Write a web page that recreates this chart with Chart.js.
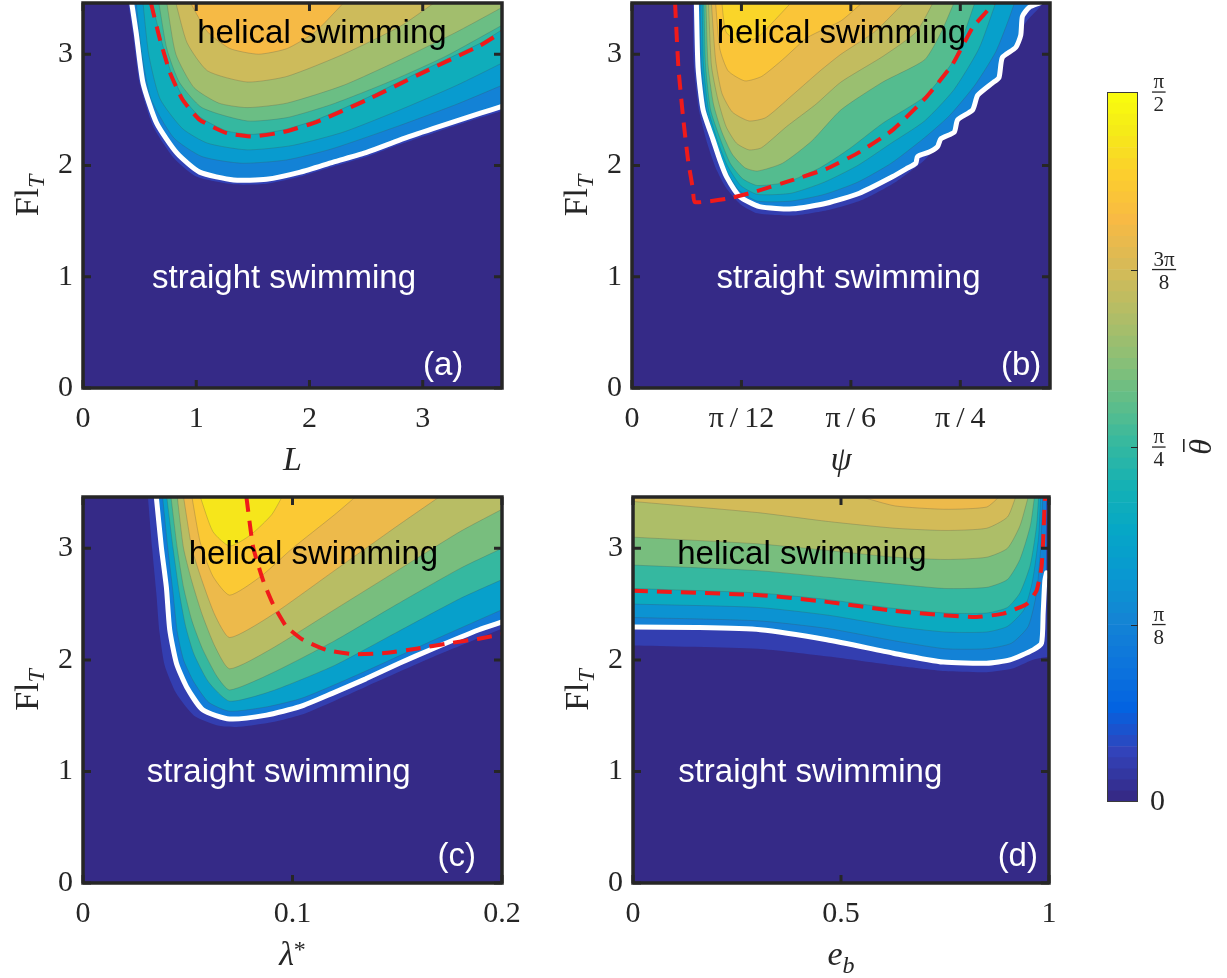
<!DOCTYPE html>
<html>
<head>
<meta charset="utf-8">
<script src="https://cdn.jsdelivr.net/npm/chart.js@4.4.1/dist/chart.umd.min.js"></script>
<style>
  html, body { margin: 0; padding: 0; background: #ffffff; }
  body { width: 1227px; height: 978px; position: relative; overflow: hidden; }
  canvas { position: absolute; }
</style>
</head>
<body>
<canvas id="panelA" width="520" height="490" style="left:0px;top:0px"></canvas>
<canvas id="panelB" width="540" height="490" style="left:540px;top:0px"></canvas>
<canvas id="panelC" width="520" height="488" style="left:0px;top:490px"></canvas>
<canvas id="panelD" width="540" height="488" style="left:540px;top:490px"></canvas>
<canvas id="colorbar" width="147" height="780" style="left:1080px;top:60px"></canvas>
<script>
// ---------- axes ----------
const THETA_MAX = Math.PI / 2;
const flRange = [0, 3.46];
const flTicks = [0, 1, 2, 3];
const flTickLabels = ['0', '1', '2', '3'];

const lRange = [0, 3.7];
const lTicks = [0, 1, 2, 3];
const lTickLabels = ['0', '1', '2', '3'];

const psiRange = [0, 1];
const psiTicks = [0, Math.PI / 12, Math.PI / 6, Math.PI / 4];
const psiTickLabels = ['0', 'π\u2009/\u200912', 'π\u2009/\u20096', 'π\u2009/\u20094'];

const lambdaRange = [0, 0.2];
const lambdaTicks = [0, 0.1, 0.2];
const lambdaTickLabels = ['0', '0.1', '0.2'];

const ebRange = [0, 1];
const ebTicks = [0, 0.5, 1];
const ebTickLabels = ['0', '0.5', '1'];

const cbTicks = [0, Math.PI / 8, Math.PI / 4, 3 * Math.PI / 8, Math.PI / 2];
const cbTickLabels = [['0'], ['π', '8'], ['π', '4'], ['3π', '8'], ['π', '2']];

// ---------- (a) mean tilt over (L, Fl_T) ----------
// contour levels of θ̄ (rad): halo, boundary, then inner levels
const levelsA = [0.09, 0.38, 0.52, 0.66, 0.79, 0.91, 1.04, 1.16, 1.29];
const haloA = [[0.40,3.46],[0.44,3.19],[0.50,2.74],[0.62,2.35],[0.80,2.07],[1.00,1.90],[1.33,1.83],[1.62,1.835],[1.92,1.90],[2.21,1.99],[2.51,2.08],[2.80,2.19],[3.09,2.29],[3.51,2.43],[3.70,2.49]];
const boundaryA = [[0.43,3.46],[0.47,3.19],[0.53,2.74],[0.65,2.38],[0.83,2.11],[1.03,1.94],[1.33,1.87],[1.62,1.876],[1.92,1.94],[2.21,2.03],[2.51,2.12],[2.80,2.23],[3.09,2.33],[3.51,2.47],[3.70,2.53]];
const contoursA = [
  [[0.47,3.46],[0.52,3.0],[0.6,2.6],[0.8,2.25],[1.05,2.08],[1.4,2.02],[1.8,2.05],[2.2,2.15],[2.8,2.36],[3.3,2.55],[3.7,2.72]],
  [[0.53,3.46],[0.58,3.0],[0.68,2.6],[0.88,2.33],[1.1,2.2],[1.45,2.14],[1.85,2.18],[2.3,2.3],[2.8,2.5],[3.3,2.72],[3.7,2.92]],
  [[0.61,3.46],[0.69,3.13],[0.78,2.83],[0.89,2.6],[1.04,2.43],[1.27,2.31],[1.5,2.28],[1.77,2.32],[2.06,2.41],[2.51,2.61],[2.95,2.83],[3.51,3.1],[3.7,3.22]],
  [[0.67,3.46],[0.74,3.05],[0.85,2.75],[1.05,2.52],[1.45,2.4],[1.8,2.43],[2.2,2.55],[2.7,2.75],[3.2,2.98],[3.7,3.26]],
  [[0.74,3.46],[0.82,3.0],[0.98,2.7],[1.2,2.56],[1.45,2.52],[1.8,2.56],[2.3,2.72],[2.8,2.95],[3.3,3.2],[3.7,3.42]],
  [[0.82,3.46],[0.92,3.1],[1.1,2.85],[1.45,2.75],[1.8,2.8],[2.3,3.0],[2.8,3.25],[3.1,3.46]],
  [[0.95,3.46],[1.1,3.2],[1.3,3.05],[1.55,3.0],[1.8,3.05],[2.05,3.2],[2.3,3.46]]
];
const dashedA = [[0.60,3.46],[0.68,3.13],[0.77,2.83],[0.88,2.59],[1.03,2.41],[1.27,2.29],[1.50,2.26],[1.77,2.30],[2.06,2.39],[2.51,2.59],[2.95,2.81],[3.51,3.08],[3.70,3.20]];

// ---------- (b) mean tilt over (ψ, Fl_T) ----------
const levelsB = [0.08, 0.38, 0.55, 0.71, 0.86, 1.02, 1.13, 1.24, 1.35, 1.42];
const haloB = [[0.145,3.46],[0.148,2.9],[0.16,2.5],[0.18,2.2],[0.2,1.98],[0.225,1.8],[0.26,1.65],[0.3,1.57],[0.385,1.55],[0.47,1.6],[0.55,1.69],[0.63,1.85],[0.7,2.05],[0.76,2.3],[0.82,2.56],[0.87,2.85],[0.91,3.1],[0.945,3.3],[0.97,3.4],[0.985,3.46]];
const boundaryB = [[0.154,3.46],[0.158,2.88],[0.17,2.5],[0.194,2.23],[0.21,2.05],[0.226,1.9],[0.258,1.72],[0.305,1.63],[0.385,1.61],[0.465,1.66],[0.544,1.75],[0.624,1.9],[0.656,1.97],[0.679,2.02],[0.683,2.08],[0.711,2.12],[0.731,2.17],[0.739,2.24],[0.771,2.3],[0.779,2.41],[0.815,2.5],[0.827,2.63],[0.862,2.74],[0.878,2.79],[0.886,2.97],[0.918,3.06],[0.93,3.17],[0.934,3.34],[0.95,3.42],[0.975,3.46]];
const contoursB = [
  [[0.163,3.46],[0.166,2.9],[0.178,2.5],[0.2,2.2],[0.222,1.98],[0.255,1.78],[0.3,1.68],[0.38,1.68],[0.46,1.74],[0.54,1.85],[0.62,2.02],[0.7,2.25],[0.76,2.45],[0.82,2.72],[0.87,3.02],[0.9,3.3],[0.915,3.46]],
  [[0.168,3.46],[0.171,2.9],[0.183,2.5],[0.205,2.22],[0.228,2.0],[0.26,1.82],[0.3,1.74],[0.38,1.75],[0.46,1.85],[0.54,2.0],[0.62,2.2],[0.7,2.4],[0.77,2.68],[0.83,3.05],[0.87,3.46]],
  [[0.172,3.46],[0.176,2.9],[0.188,2.5],[0.21,2.25],[0.235,2.02],[0.265,1.88],[0.3,1.82],[0.37,1.85],[0.45,1.98],[0.52,2.15],[0.6,2.38],[0.7,2.62],[0.77,2.95],[0.82,3.46]],
  [[0.177,3.46],[0.182,2.9],[0.195,2.55],[0.215,2.3],[0.24,2.1],[0.27,1.98],[0.3,1.95],[0.36,2.02],[0.43,2.22],[0.5,2.5],[0.6,2.75],[0.7,2.95],[0.74,3.2],[0.77,3.46]],
  [[0.183,3.46],[0.19,2.9],[0.205,2.6],[0.225,2.35],[0.25,2.2],[0.28,2.14],[0.31,2.16],[0.37,2.35],[0.44,2.55],[0.5,2.75],[0.6,2.98],[0.68,3.2],[0.72,3.46]],
  [[0.19,3.46],[0.2,2.95],[0.215,2.65],[0.24,2.48],[0.28,2.4],[0.32,2.43],[0.38,2.62],[0.45,2.85],[0.5,3.0],[0.58,3.2],[0.65,3.46]],
  [[0.2,3.46],[0.21,3.05],[0.23,2.85],[0.27,2.76],[0.31,2.8],[0.36,2.95],[0.42,3.15],[0.5,3.3],[0.55,3.46]],
  [[0.215,3.46],[0.225,3.2],[0.26,3.1],[0.3,3.15],[0.34,3.3],[0.38,3.46]]
];
const dashedB = [[0.103,3.46],[0.111,2.88],[0.122,2.44],[0.134,2.05],[0.146,1.78],[0.15,1.67],[0.226,1.70],[0.29,1.76],[0.385,1.87],[0.465,1.97],[0.544,2.12],[0.624,2.32],[0.703,2.61],[0.767,2.91],[0.815,3.24],[0.85,3.39],[0.865,3.46]];

// ---------- (c) mean tilt over (λ*, Fl_T) ----------
const levelsC = [0.08, 0.35, 0.55, 0.79, 0.94, 1.10, 1.26, 1.37, 1.48];
const haloC = [[0.031,3.46],[0.033,3.0],[0.035,2.6],[0.0365,2.25],[0.039,1.95],[0.0445,1.7],[0.053,1.5],[0.065,1.41],[0.075,1.4],[0.09,1.44],[0.106,1.52],[0.135,1.76],[0.17,2.05],[0.2,2.28]];
const boundaryC = [[0.035,3.46],[0.0374,3.01],[0.0398,2.65],[0.0414,2.27],[0.0446,1.97],[0.0494,1.76],[0.0573,1.55],[0.07,1.47],[0.0876,1.505],[0.1035,1.58],[0.119,1.70],[0.135,1.83],[0.151,1.97],[0.167,2.10],[0.189,2.27],[0.2,2.34]];
const contoursC = [
  [[0.038,3.46],[0.0405,3.0],[0.043,2.6],[0.045,2.25],[0.048,2.0],[0.053,1.8],[0.06,1.62],[0.07,1.54],[0.088,1.58],[0.105,1.66],[0.135,1.9],[0.17,2.2],[0.2,2.45]],
  [[0.04,3.46],[0.043,3.0],[0.046,2.6],[0.049,2.3],[0.053,2.05],[0.06,1.8],[0.07,1.63],[0.09,1.72],[0.12,1.95],[0.15,2.25],[0.18,2.55],[0.2,2.72]],
  [[0.042,3.46],[0.045,3.0],[0.048,2.65],[0.052,2.35],[0.057,2.1],[0.064,1.85],[0.07,1.73],[0.09,1.88],[0.12,2.17],[0.15,2.5],[0.18,2.82],[0.2,3.0]],
  [[0.045,3.46],[0.048,3.0],[0.052,2.7],[0.057,2.4],[0.063,2.12],[0.07,1.92],[0.09,2.1],[0.12,2.45],[0.15,2.8],[0.18,3.15],[0.2,3.35]],
  [[0.048,3.46],[0.052,3.0],[0.057,2.7],[0.063,2.4],[0.07,2.2],[0.09,2.4],[0.12,2.8],[0.15,3.2],[0.17,3.46]],
  [[0.052,3.46],[0.056,3.05],[0.062,2.75],[0.07,2.58],[0.085,2.75],[0.1,3.0],[0.12,3.3],[0.13,3.46]],
  [[0.056,3.46],[0.062,3.15],[0.07,3.02],[0.08,3.12],[0.09,3.3],[0.095,3.46]]
];
const dashedC = [[0.078,3.46],[0.0812,3.01],[0.086,2.71],[0.0907,2.50],[0.097,2.30],[0.105,2.18],[0.116,2.09],[0.129,2.05],[0.143,2.06],[0.159,2.10],[0.175,2.15],[0.189,2.19],[0.2,2.23]];

// ---------- (d) mean tilt over (e_b, Fl_T) ----------
const levelsD = [0.08, 0.38, 0.47, 0.63, 0.79, 0.94, 1.07, 1.18, 1.26];
const haloD = [[0,2.13],[0.3,2.1],[0.47,2.03],[0.63,1.95],[0.75,1.9],[0.85,1.89],[0.91,1.92],[0.96,2.0],[1.0,2.03]];
const boundaryD = [[0,2.295],[0.15,2.29],[0.306,2.27],[0.466,2.18],[0.626,2.06],[0.746,1.98],[0.85,1.97],[0.906,2.0],[0.962,2.09],[0.982,2.15],[0.986,2.42],[0.99,2.71],[0.994,2.78]];
const contoursD = [
  [[0,2.38],[0.3,2.35],[0.47,2.28],[0.63,2.17],[0.75,2.1],[0.85,2.1],[0.91,2.15],[0.95,2.3],[0.97,2.6],[0.98,3.0],[0.985,3.46]],
  [[0,2.5],[0.3,2.47],[0.47,2.4],[0.63,2.3],[0.75,2.25],[0.85,2.25],[0.9,2.3],[0.94,2.45],[0.96,2.7],[0.975,3.1],[0.98,3.46]],
  [[0,2.64],[0.3,2.6],[0.47,2.54],[0.63,2.46],[0.75,2.42],[0.85,2.42],[0.9,2.47],[0.93,2.6],[0.955,2.85],[0.97,3.2],[0.975,3.46]],
  [[0,2.85],[0.3,2.8],[0.47,2.74],[0.63,2.68],[0.75,2.64],[0.85,2.65],[0.9,2.72],[0.93,2.9],[0.955,3.2],[0.965,3.46]],
  [[0,3.1],[0.3,3.04],[0.47,2.98],[0.63,2.92],[0.75,2.9],[0.85,2.92],[0.9,3.0],[0.93,3.2],[0.95,3.46]],
  [[0,3.42],[0.3,3.32],[0.47,3.24],[0.63,3.18],[0.75,3.16],[0.85,3.18],[0.9,3.28],[0.92,3.46]],
  [[0.55,3.46],[0.63,3.38],[0.75,3.35],[0.85,3.37],[0.88,3.46]]
];
const dashedD = [[0,2.62],[0.306,2.58],[0.466,2.52],[0.626,2.44],[0.746,2.40],[0.826,2.385],[0.89,2.415],[0.946,2.50],[0.97,2.62],[0.982,2.83],[0.986,3.07],[0.99,3.43],[0.992,3.46]];

// ---------- colour map (parula) ----------
const PARULA_STOPS = [
  [0.000, 53, 42,135],[0.063, 50, 67,186],[0.127,  3, 99,225],[0.190, 13,117,220],
  [0.254, 20,133,212],[0.317,  9,152,209],[0.381,  6,167,198],[0.444, 21,177,180],
  [0.508, 56,185,158],[0.571,101,190,134],[0.635,146,191,115],[0.698,183,189,100],
  [0.762,217,186, 86],[0.825,248,186, 68],[0.889,252,206, 46],[0.952,245,235, 24],
  [1.000,249,251, 14]
];
function parula(t) {
  t = Math.max(0, Math.min(1, t));
  for (let i = 1; i < PARULA_STOPS.length; i++) {
    const a = PARULA_STOPS[i - 1], b = PARULA_STOPS[i];
    if (t <= b[0]) {
      const f = (t - a[0]) / (b[0] - a[0]);
      const c = [1, 2, 3].map(k => Math.round(a[k] + (b[k] - a[k]) * f));
      return `rgb(${c[0]},${c[1]},${c[2]})`;
    }
  }
  return 'rgb(249,251,14)';
}

const INK = '#262626';
const SERIF = '"Liberation Serif", "DejaVu Serif", serif';
const SANS = '"Liberation Sans", Arial, sans-serif';

function toPoints(arr) { return arr.map(p => ({ x: p[0], y: p[1] })); }

function buildDatasets(levels, halo, boundary, contours, dashed) {
  const fills = [halo, boundary, ...contours];
  const ds = fills.map((c, i) => ({
    data: toPoints(c),
    fill: 'end',
    backgroundColor: parula(levels[i] / THETA_MAX),
    borderColor: i < 2 ? 'rgba(0,0,0,0)' : 'rgba(70,70,70,0.3)',
    borderWidth: i < 2 ? 0 : 0.8,
    pointRadius: 0,
    tension: 0.2,
    order: 100 - i
  }));
  ds.push({
    data: toPoints(boundary), fill: false, borderColor: '#ffffff', borderWidth: 5,
    pointRadius: 0, tension: 0.2, order: 1, borderCapStyle: 'round', borderJoinStyle: 'round'
  });
  ds.push({
    data: toPoints(dashed), fill: false, borderColor: '#f01a1a', borderWidth: 4,
    borderDash: [15, 9], pointRadius: 0, tension: 0.15, order: 0
  });
  return ds;
}

// draws a run of text pieces (with sub/superscripts) centred on cx, baseline y
function drawPieces(ctx, pieces, cx, y) {
  let total = 0;
  pieces.forEach(p => { ctx.font = p.font; total += ctx.measureText(p.text).width; });
  let x = cx - total / 2;
  ctx.textAlign = 'left';
  ctx.textBaseline = 'alphabetic';
  pieces.forEach(p => {
    ctx.font = p.font;
    ctx.fillText(p.text, x, y + (p.dy || 0));
    x += ctx.measureText(p.text).width;
  });
}

const panelDecor = {
  id: 'panelDecor',
  beforeDatasetsDraw(chart) {
    const { ctx, chartArea: a } = chart;
    ctx.save();
    ctx.fillStyle = parula(0);
    ctx.fillRect(a.left, a.top, a.width, a.height);
    ctx.restore();
  },
  afterDatasetsDraw(chart, args, o) {
    const { ctx, chartArea: a, scales: { x, y } } = chart;
    ctx.save();
    // region labels
    ctx.font = '33px ' + SANS;
    ctx.textAlign = 'center';
    ctx.textBaseline = 'alphabetic';
    o.notes.forEach(n => {
      ctx.fillStyle = n.color;
      ctx.fillText(n.text, x.getPixelForValue(n.x), y.getPixelForValue(n.y));
    });
    // inward tick marks on all four sides
    ctx.strokeStyle = INK;
    ctx.lineWidth = 3;
    ctx.beginPath();
    x.ticks.forEach(t => {
      const px = x.getPixelForValue(t.value);
      ctx.moveTo(px, a.bottom); ctx.lineTo(px, a.bottom - 8);
      ctx.moveTo(px, a.top); ctx.lineTo(px, a.top + 8);
    });
    y.ticks.forEach(t => {
      const py = y.getPixelForValue(t.value);
      ctx.moveTo(a.left, py); ctx.lineTo(a.left + 8, py);
      ctx.moveTo(a.right, py); ctx.lineTo(a.right - 8, py);
    });
    ctx.stroke();
    // axes box
    ctx.lineWidth = 3.5;
    ctx.strokeRect(a.left, a.top, a.width, a.height);
    // axis titles
    ctx.fillStyle = INK;
    drawPieces(ctx, o.xTitle, (a.left + a.right) / 2, a.bottom + 82);
    ctx.save();
    ctx.translate(a.left - 45, (a.top + a.bottom) / 2);
    ctx.rotate(-Math.PI / 2);
    drawPieces(ctx, o.yTitle, 0, 0);
    ctx.restore();
    ctx.restore();
  }
};

const FL_TITLE = [
  { text: 'Fl', font: '34px ' + SERIF },
  { text: 'T', font: 'italic 24px ' + SERIF, dy: 6 }
];

function makePanel(id, geo, xr, xt, xl, xTitle, datasets, notes) {
  return new Chart(document.getElementById(id), {
    type: 'line',
    data: { datasets },
    options: {
      responsive: false,
      animation: false,
      events: [],
      layout: { padding: { left: 0, top: geo.top, right: geo.right, bottom: 0 } },
      plugins: {
        legend: { display: false },
        tooltip: { enabled: false },
        panelDecor: { notes, xTitle, yTitle: FL_TITLE }
      },
      scales: {
        x: {
          type: 'linear', min: xr[0], max: xr[1],
          afterBuildTicks: s => { s.ticks = xt.map(v => ({ value: v })); },
          afterFit: s => { s.height = geo.xh; s.paddingLeft = 0; s.paddingRight = 0; },
          ticks: {
            callback: (v, i) => xl[i], autoSkip: false, maxRotation: 0, minRotation: 0,
            padding: 13, color: INK, font: { family: SERIF, size: 30 }
          },
          grid: { display: false, drawTicks: false }, border: { display: false }
        },
        y: {
          type: 'linear', min: flRange[0], max: flRange[1],
          afterBuildTicks: s => { s.ticks = flTicks.map(v => ({ value: v })); },
          afterFit: s => { s.width = geo.yw; s.paddingTop = 0; s.paddingBottom = 0; },
          ticks: {
            callback: (v, i) => flTickLabels[i], autoSkip: false,
            padding: 10, color: INK, font: { family: SERIF, size: 30 }
          },
          grid: { display: false, drawTicks: false }, border: { display: false }
        }
      }
    },
    plugins: [panelDecor]
  });
}

function notesFor(hx, hy, sx, sy, tag, tx, ty) {
  return [
    { text: 'helical swimming', x: hx, y: hy, color: '#000000' },
    { text: 'straight swimming', x: sx, y: sy, color: '#ffffff' },
    { text: tag, x: tx, y: ty, color: '#ffffff' }
  ];
}

makePanel('panelA', { top: 3, right: 18, yw: 83, xh: 102 }, lRange, lTicks, lTickLabels,
  [{ text: 'L', font: 'italic 34px ' + SERIF }],
  buildDatasets(levelsA, haloA, boundaryA, contoursA, dashedA),
  notesFor(2.11, 3.10, 1.775, 0.90, '(a)', 3.18, 0.12));

makePanel('panelB', { top: 3, right: 30, yw: 92, xh: 102 }, psiRange, psiTicks, psiTickLabels,
  [{ text: 'ψ', font: 'italic 34px ' + SERIF }],
  buildDatasets(levelsB, haloB, boundaryB, contoursB, dashedB),
  notesFor(0.501, 3.10, 0.518, 0.895, '(b)', 0.931, 0.117));

makePanel('panelC', { top: 7, right: 18, yw: 83, xh: 95 }, lambdaRange, lambdaTicks, lambdaTickLabels,
  [{ text: 'λ', font: 'italic 34px ' + SERIF }, { text: '*', font: '24px ' + SERIF, dy: -8 }],
  buildDatasets(levelsC, haloC, boundaryC, contoursC, dashedC),
  notesFor(0.110, 2.86, 0.0934, 0.909, '(c)', 0.1784, 0.148));

makePanel('panelD', { top: 7, right: 31, yw: 93, xh: 95 }, ebRange, ebTicks, ebTickLabels,
  [{ text: 'e', font: 'italic 34px ' + SERIF }, { text: 'b', font: 'italic 24px ' + SERIF, dy: 8 }],
  buildDatasets(levelsD, haloD, boundaryD, contoursD, dashedD),
  notesFor(0.406, 2.86, 0.426, 0.909, '(d)', 0.925, 0.148));

// ---------- colour bar ----------
const CB_STEPS = 64;
const cbDatasets = [];
for (let i = 0; i < CB_STEPS; i++) {
  cbDatasets.push({
    data: [[i * THETA_MAX / CB_STEPS, (i + 1) * THETA_MAX / CB_STEPS]],
    backgroundColor: parula(i / (CB_STEPS - 1)),
    borderWidth: 0, grouped: false, barPercentage: 1, categoryPercentage: 1
  });
}

const colorbarDecor = {
  id: 'colorbarDecor',
  afterDatasetsDraw(chart) {
    const { ctx, chartArea: a, scales: { y } } = chart;
    ctx.save();
    ctx.strokeStyle = '#3a3a3a';
    ctx.lineWidth = 1;
    ctx.strokeRect(a.left + 0.5, a.top + 0.5, a.width - 1, a.height - 1);
    ctx.strokeStyle = INK;
    ctx.beginPath();
    cbTicks.forEach((v, i) => {
      if (i === 0 || i === cbTicks.length - 1) return;
      const py = Math.round(y.getPixelForValue(v)) + 0.5;
      ctx.moveTo(a.right, py); ctx.lineTo(a.right - 7, py);
    });
    ctx.stroke();
    ctx.fillStyle = INK;
    const lx = a.right + 14;
    cbTickLabels.forEach((lab, i) => {
      const py = y.getPixelForValue(cbTicks[i]);
      if (lab.length === 1) {
        ctx.font = '30px ' + SERIF;
        ctx.textAlign = 'left';
        ctx.textBaseline = 'middle';
        ctx.fillText(lab[0], lx - 2, py);
      } else {
        ctx.font = '21px ' + SERIF;
        const w = Math.max(ctx.measureText(lab[0]).width, ctx.measureText(lab[1]).width) + 3;
        ctx.fillRect(lx, py - 0.6, w, 1.3);
        ctx.textAlign = 'center';
        ctx.textBaseline = 'alphabetic';
        ctx.fillText(lab[0], lx + w / 2, py - 4);
        ctx.fillText(lab[1], lx + w / 2, py + 19);
      }
    });
    // colour bar title: θ with an overbar, rotated
    const yc = y.getPixelForValue(Math.PI / 4);
    ctx.save();
    ctx.translate(131, yc);
    ctx.rotate(-Math.PI / 2);
    ctx.font = 'italic 32px ' + SERIF;
    ctx.textAlign = 'center';
    ctx.textBaseline = 'alphabetic';
    ctx.fillText('θ', 0, 0);
    ctx.fillRect(-5, -28, 13, 1.6);
    ctx.restore();
    ctx.restore();
  }
};

new Chart(document.getElementById('colorbar'), {
  type: 'bar',
  data: { labels: ['θ'], datasets: cbDatasets },
  options: {
    responsive: false,
    animation: false,
    events: [],
    layout: { padding: { left: 27, right: 89, top: 32, bottom: 38 } },
    plugins: { legend: { display: false }, tooltip: { enabled: false } },
    scales: {
      x: { type: 'category', display: false },
      y: { min: 0, max: THETA_MAX, display: false }
    }
  },
  plugins: [colorbarDecor]
});
</script>
</body>
</html>
